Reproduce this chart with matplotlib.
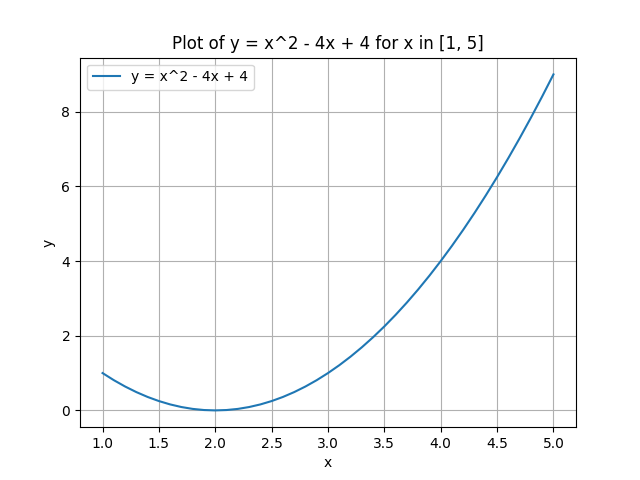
import matplotlib
matplotlib.use("Agg")
import matplotlib.pyplot as plt

# values
x_vals = [1.0, 1.1, 1.2, 1.3, 1.4, 1.5, 1.6, 1.7, 1.8, 1.9,
          2.0, 2.1, 2.2, 2.3, 2.4, 2.5, 2.6, 2.7, 2.8, 2.9,
          3.0, 3.1, 3.2, 3.3, 3.4, 3.5, 3.6, 3.7, 3.8, 3.9,
          4.0, 4.1, 4.2, 4.3, 4.4, 4.5, 4.6, 4.7, 4.8, 4.9, 5.0]
y_vals = [1.00, 0.81, 0.64, 0.49, 0.36, 0.25, 0.16, 0.09, 0.04, 0.01,
          0.00, 0.01, 0.04, 0.09, 0.16, 0.25, 0.36, 0.49, 0.64, 0.81,
          1.00, 1.21, 1.44, 1.69, 1.96, 2.25, 2.56, 2.89, 3.24, 3.61,
          4.00, 4.41, 4.84, 5.29, 5.76, 6.25, 6.76, 7.29, 7.84, 8.41, 9.00]

LABEL = "y = x^2 - 4x + 4"

fig, ax = plt.subplots(figsize=(6.4, 4.8), dpi=100)
ax.plot(x_vals, y_vals, label=LABEL)
ax.set_title("Plot of y = x^2 - 4x + 4 for x in [1, 5]")
ax.set_xlabel("x")
ax.set_ylabel("y")
ax.legend(loc="upper left")
ax.grid(True)

fig.savefig("out.png", dpi=100)
